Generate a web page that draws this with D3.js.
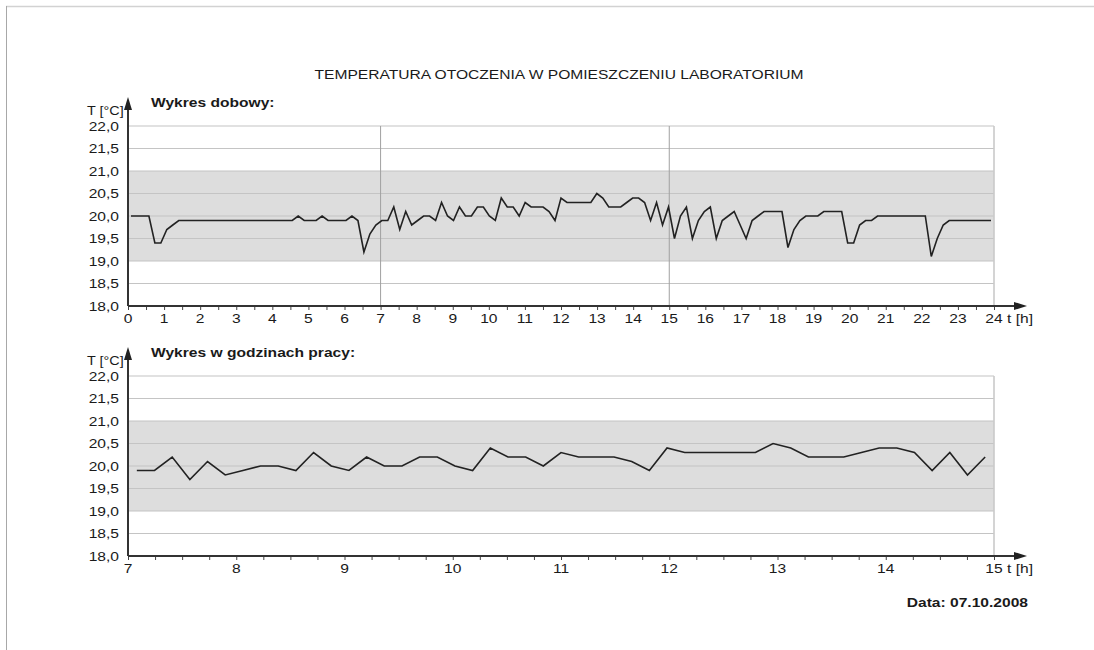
<!DOCTYPE html>
<html><head><meta charset="utf-8">
<script src="https://cdn.jsdelivr.net/npm/d3@7"></script>
<style>
html,body{margin:0;padding:0;background:#fff;overflow:hidden}
svg{display:block}
text{font-family:"Liberation Sans",Arial,sans-serif;fill:#1a1a1a}
</style>
</head><body>
<svg id="chart" width="1094" height="650"></svg>
<script>
// ---------- DATA ----------
const times = [
"0:00","0:10","0:20","0:30","0:40","0:50",
"1:00","1:10","1:20","1:30","1:40","1:50",
"2:00","2:10","2:20","2:30","2:40","2:50",
"3:00","3:10","3:20","3:30","3:40","3:50",
"4:00","4:10","4:20","4:30","4:40","4:50",
"5:00","5:10","5:20","5:30","5:40","5:50",
"6:00","6:10","6:20","6:30","6:40","6:50",
"7:00","7:10","7:20","7:30","7:40","7:50",
"8:00","8:10","8:20","8:30","8:40","8:50",
"9:00","9:10","9:20","9:30","9:40","9:50",
"10:00","10:10","10:20","10:30","10:40","10:50",
"11:00","11:10","11:20","11:30","11:40","11:50",
"12:00","12:10","12:20","12:30","12:40","12:50",
"13:00","13:10","13:20","13:30","13:40","13:50",
"14:00","14:10","14:20","14:30","14:40","14:50",
"15:00","15:10","15:20","15:30","15:40","15:50",
"16:00","16:10","16:20","16:30","16:40","16:50",
"17:00","17:10","17:20","17:30","17:40","17:50",
"18:00","18:10","18:20","18:30","18:40","18:50",
"19:00","19:10","19:20","19:30","19:40","19:50",
"20:00","20:10","20:20","20:30","20:40","20:50",
"21:00","21:10","21:20","21:30","21:40","21:50",
"22:00","22:10","22:20","22:30","22:40","22:50",
"23:00","23:10","23:20","23:30","23:40","23:50",
"24:00"];

const temps = [
20.0,20.0,20.0,20.0,19.4,19.4,
19.7,19.8,19.9,19.9,19.9,19.9,
19.9,19.9,19.9,19.9,19.9,19.9,
19.9,19.9,19.9,19.9,19.9,19.9,
19.9,19.9,19.9,19.9,20.0,19.9,
19.9,19.9,20.0,19.9,19.9,19.9,
19.9,20.0,19.9,19.2,19.6,19.8,
19.9,19.9,20.2,19.7,20.1,19.8,
19.9,20.0,20.0,19.9,20.3,20.0,
19.9,20.2,20.0,20.0,20.2,20.2,
20.0,19.9,20.4,20.2,20.2,20.0,
20.3,20.2,20.2,20.2,20.1,19.9,
20.4,20.3,20.3,20.3,20.3,20.3,
20.5,20.4,20.2,20.2,20.2,20.3,
20.4,20.4,20.3,19.9,20.3,19.8,
20.2,19.5,20.0,20.2,19.5,19.9,
20.1,20.2,19.5,19.9,20.0,20.1,
19.8,19.5,19.9,20.0,20.1,20.1,
20.1,20.1,19.3,19.7,19.9,20.0,
20.0,20.0,20.1,20.1,20.1,20.1,
19.4,19.4,19.8,19.9,19.9,20.0,
20.0,20.0,20.0,20.0,20.0,20.0,
20.0,20.0,19.1,19.5,19.8,19.9,
19.9,19.9,19.9,19.9,19.9,19.9,
19.9];

const yTickValues = [18.0,18.5,19.0,19.5,20.0,20.5,21.0,21.5,22.0];
const yTickLabels = ["18,0","18,5","19,0","19,5","20,0","20,5","21,0","21,5","22,0"];
const dayHourLabels = [0,1,2,3,4,5,6,7,8,9,10,11,12,13,14,15,16,17,18,19,20,21,22,23,24];
const workHourLabels = [7,8,9,10,11,12,13,14,15];
const comfortBand = [19.0, 21.0];
const workHours = [7, 15];

const title = "TEMPERATURA OTOCZENIA W POMIESZCZENIU LABORATORIUM";
const dayTitle = "Wykres dobowy:";
const workTitle = "Wykres w godzinach pracy:";
const yAxisTitle = "T [°C]";
const xAxisTitle = "t [h]";
const dateText = "Data: 07.10.2008";

// ---------- HELPERS ----------
const svg = d3.select("#chart");
const SX = 1.2; // horizontal stretch of the original lettering
function txt(g, x, y, s, opt = {}) {
  const size = opt.size || 13, anchor = opt.anchor || "start", weight = opt.weight || "normal";
  return g.append("text")
    .attr("transform", `translate(${x},${y}) scale(${SX},1)`)
    .attr("text-anchor", anchor)
    .style("font-size", size + "px")
    .style("font-weight", weight)
    .text(s);
}
const toHours = t => { const [h, m] = t.split(":").map(Number); return h + m / 60; };

const allData = times.map((t, i) => ({ t, h: toHours(t), v: temps[i] }));
const workData = allData.filter(d => d.h >= workHours[0] && d.h <= workHours[1]);

// page frame
svg.append("line").attr("x1", 6).attr("x2", 1094).attr("y1", 6.5).attr("y2", 6.5)
  .attr("stroke", "#d2d2d2").attr("stroke-width", 1.5);
svg.append("line").attr("x1", 6.5).attr("x2", 6.5).attr("y1", 6).attr("y2", 650)
  .attr("stroke", "#a8a8a8").attr("stroke-width", 1);

txt(svg, 559, 79, title, { size: 13, anchor: "middle" });

function drawPanel(cfg) {
  const g = svg.append("g");
  const x0 = 128, x1 = 994;
  const xLin = d3.scaleLinear().domain(cfg.domain).range([x0, x1]);
  const xPt = d3.scalePoint().domain(cfg.data.map(d => d.t)).range([x0, x1]).padding(0.5);
  const y = d3.scaleLinear().domain([18, 22]).range([cfg.bottom, cfg.top]);

  // comfort band
  g.append("rect").attr("x", x0).attr("width", x1 - x0)
    .attr("y", y(comfortBand[1])).attr("height", y(comfortBand[0]) - y(comfortBand[1]))
    .attr("fill", "#dddddd");

  // horizontal grid
  g.selectAll("line.grid").data(yTickValues.filter(v => v > 18)).join("line")
    .attr("x1", x0).attr("x2", x1).attr("y1", d => y(d)).attr("y2", d => y(d))
    .attr("stroke", "#c4c4c4").attr("stroke-width", 1.2);

  // right border
  g.append("line").attr("x1", x1).attr("x2", x1).attr("y1", y(22)).attr("y2", y(18))
    .attr("stroke", "#cacaca").attr("stroke-width", 1.6);

  // vertical markers of working hours
  (cfg.markers || []).forEach(m => {
    g.append("line").attr("x1", xLin(m)).attr("x2", xLin(m)).attr("y1", y(22)).attr("y2", y(18))
      .attr("stroke", "#a0a0a0").attr("stroke-width", 1);
  });

  // data line
  g.append("path").datum(cfg.data)
    .attr("d", d3.line().x(d => xPt(d.t)).y(d => y(d.v)))
    .attr("fill", "none").attr("stroke", "#222").attr("stroke-width", 1.6)
    .attr("stroke-linejoin", "miter");

  // x axis ticks
  const tickVals = d3.range(cfg.domain[0], cfg.domain[1] + 1e-9, cfg.tickStep);
  const ax = g.append("g").attr("transform", `translate(0,${cfg.bottom})`)
    .call(d3.axisBottom(xLin).tickValues(tickVals).tickSize(4).tickFormat(""));
  ax.select(".domain").remove();
  ax.selectAll(".tick line").attr("stroke", "#444").attr("stroke-width", 1);

  // x axis line + arrow
  g.append("line").attr("x1", x0).attr("x2", 1018).attr("y1", cfg.bottom).attr("y2", cfg.bottom)
    .attr("stroke", "#333").attr("stroke-width", 2);
  g.append("path").attr("d", `M1027,${cfg.bottom} L1014,${cfg.bottom - 4} L1014,${cfg.bottom + 4} Z`)
    .attr("fill", "#222");

  // y axis line + arrow
  g.append("line").attr("x1", x0).attr("x2", x0).attr("y1", cfg.bottom).attr("y2", cfg.top - 22)
    .attr("stroke", "#333").attr("stroke-width", 2);
  g.append("path").attr("d", `M${x0},${cfg.top - 29} L${x0 - 4},${cfg.top - 16} L${x0 + 4},${cfg.top - 16} Z`)
    .attr("fill", "#222");

  // x labels
  cfg.labels.forEach(h => txt(g, xLin(h), cfg.bottom + 16.5, String(h), { size: 13, anchor: "middle" }));
  txt(g, 1007, cfg.bottom + 16.5, xAxisTitle, { size: 13 });

  // y labels
  yTickValues.forEach((v, i) => txt(g, 119, y(v) + 4.6, yTickLabels[i], { size: 13, anchor: "end" }));
  txt(g, 87, cfg.top - 11, yAxisTitle, { size: 12 });
  txt(g, 151, cfg.top - 19, cfg.title, { size: 13, weight: "bold" });
}

drawPanel({ data: allData, domain: [0, 24], tickStep: 0.5, top: 126, bottom: 306,
  labels: dayHourLabels, markers: workHours, title: dayTitle });
drawPanel({ data: workData, domain: workHours, tickStep: 0.25, top: 376, bottom: 556,
  labels: workHourLabels, markers: [], title: workTitle });

txt(svg, 1028, 607, dateText, { size: 13, weight: "bold", anchor: "end" });
</script>
</body></html>
